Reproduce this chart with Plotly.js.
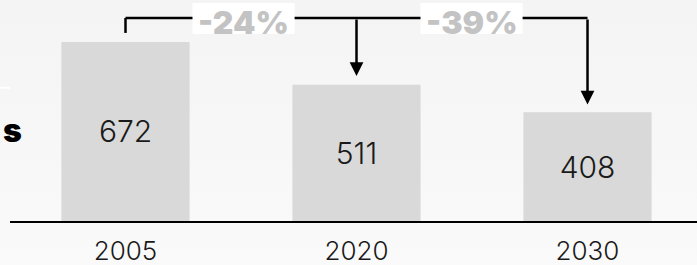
<!DOCTYPE html>
<html>
<head>
<meta charset="utf-8">
<script src="https://cdn.plot.ly/plotly-3.0.1.min.js"></script>
<style>
html, body { margin:0; padding:0; }
body { width:697px; height:265px; background: linear-gradient(to bottom, #f4f4f4 0%, #fafafa 100%); overflow:hidden; }
#chart { width:697px; height:265px; }
</style>
</head>
<body>
<div id="chart"></div>
<script>
// Data
const years = ['2005', '2020', '2030'];
const values = [672, 511, 408];
const changeLabels = ['-24%', '-39%'];
const sideLabel = 's';

const numFont = 'Inter, Roboto, "DejaVu Sans", sans-serif';
const heavyFont = 'Inter, "DejaVu Sans", Arial, sans-serif';

const trace = {
  type: 'bar',
  x: years,
  y: values,
  text: values.map(String),
  textposition: 'inside',
  insidetextanchor: 'middle',
  textangle: 0,
  constraintext: 'none',
  textfont: { family: numFont, size: 30, color: '#1a1a1a', weight: 300 },
  marker: { color: '#d9d9d9', line: { width: 0 } },
  width: 0.555,
  hoverinfo: 'skip'
};

// bracket geometry (in data units)
const topY = 762;
const leftStartY = 706;
const tip1 = 544;
const tip2 = 437;
const lineStyle = { color: '#000000', width: 2.5 };

const shapes = [
  { type: 'line', xref: 'x', yref: 'y', x0: 0, x1: 0, y0: leftStartY, y1: topY, line: lineStyle },
  { type: 'line', xref: 'x', yref: 'y', x0: 0, x1: 2, y0: topY, y1: topY, line: lineStyle },
  // white label boxes
  { type: 'rect', xref: 'x', yref: 'y', x0: 0.29, x1: 0.732, y0: 702, y1: 818, fillcolor: '#ffffff', line: { width: 0 } },
  { type: 'rect', xref: 'x', yref: 'y', x0: 1.277, x1: 1.719, y0: 702, y1: 818, fillcolor: '#ffffff', line: { width: 0 } },
  // faint white mark at the left edge
  { type: 'line', xref: 'paper', yref: 'y', x0: -0.0146, x1: 0, y0: 500, y1: 500, line: { color: '#ffffff', width: 2 } },
];

const annotations = [
  { x: 1, y: tip1, ax: 1, ay: topY, xref: 'x', yref: 'y', axref: 'x', ayref: 'y', text: '', showarrow: true,
    arrowhead: 2, arrowwidth: 2.5, arrowsize: 1.1, arrowcolor: '#000000', standoff: 0, startstandoff: 0 },
  { x: 2, y: tip2, ax: 2, ay: topY, xref: 'x', yref: 'y', axref: 'x', ayref: 'y', text: '', showarrow: true,
    arrowhead: 2, arrowwidth: 2.5, arrowsize: 1.1, arrowcolor: '#000000', standoff: 0, startstandoff: 0 },
  { x: 0.511, y: 745, xref: 'x', yref: 'y', text: changeLabels[0], showarrow: false,
    font: { family: heavyFont, size: 32, color: '#c3c3c3', weight: 900 }, xanchor: 'center', yanchor: 'middle' },
  { x: 1.498, y: 745, xref: 'x', yref: 'y', text: changeLabels[1], showarrow: false,
    font: { family: heavyFont, size: 32, color: '#c3c3c3', weight: 900 }, xanchor: 'center', yanchor: 'middle' },
  { x: -0.0131, y: 0.41, xref: 'paper', yref: 'paper', text: sideLabel, showarrow: false,
    font: { family: heavyFont, size: 32, color: '#000000', weight: 900 }, xanchor: 'left', yanchor: 'middle' }
];

const layout = {
  width: 697,
  height: 265,
  margin: { l: 10, r: 0, t: 0, b: 44, pad: 0 },
  paper_bgcolor: 'rgba(0,0,0,0)',
  plot_bgcolor: 'rgba(0,0,0,0)',
  showlegend: false,
  xaxis: {
    type: 'category',
    range: [-0.5, 2.474],
    showline: true, linecolor: '#000000', linewidth: 2,
    showgrid: false, zeroline: false, ticks: '',
    ticklabelstandoff: 6,
    tickfont: { family: numFont, size: 26, color: '#1a1a1a', weight: 300 },
    fixedrange: true
  },
  yaxis: {
    range: [0, 829.6],
    visible: false, showgrid: false, zeroline: false, fixedrange: true
  },
  shapes: shapes,
  annotations: annotations
};

Plotly.newPlot('chart', [trace], layout, { displayModeBar: false, staticPlot: true });
</script>
</body>
</html>
